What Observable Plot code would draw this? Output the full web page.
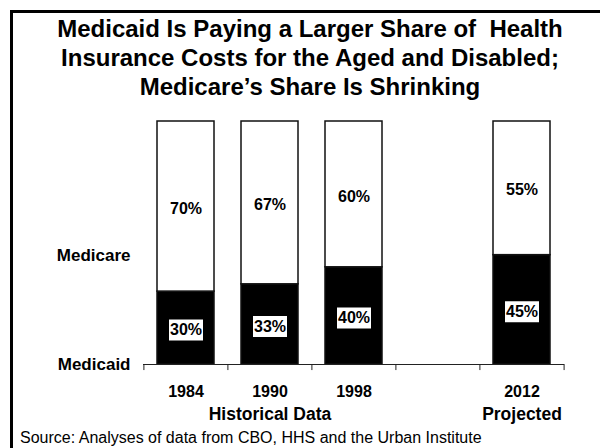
<!DOCTYPE html>
<html>
<head>
<meta charset="utf-8">
<script src="https://cdn.jsdelivr.net/npm/d3@7"></script>
<script src="https://cdn.jsdelivr.net/npm/@observablehq/plot@0.6"></script>
<style>
  html, body { margin: 0; padding: 0; background: #fff; }
  #wrap { position: relative; width: 600px; height: 448px; overflow: hidden; font-family: "Liberation Sans", Arial, sans-serif; }
  #frame { position: absolute; left: 10px; top: 10px; width: 640px; height: 480px; border: 3px solid #000; box-sizing: border-box; }
  #title { position: absolute; left: 10px; top: 14px; width: 600px; text-align: center; font-weight: bold; font-size: 24px; line-height: 29px; color: #000; }
  #chart { position: absolute; left: 0; top: 110px; }
  #source { position: absolute; left: 20px; top: 429px; font-size: 16px; line-height: 18px; color: #000; white-space: nowrap; }
</style>
</head>
<body>
<div id="wrap">
  <div id="frame"></div>
  <div id="title">Medicaid Is Paying a Larger Share of&nbsp; Health<br>Insurance Costs for the Aged and Disabled;<br>Medicare’s Share Is Shrinking</div>
  <div id="chart"></div>
  <div id="source">Source: Analyses of data from CBO, HHS and the Urban Institute</div>
</div>
<script>
// ---- data ----
const categories = ["1984", "1990", "1998", "gap", "2012"];
const years = ["1984", "1990", "1998", "2012"];
const medicaid = [30, 33, 40, 45];
const medicare = [70, 67, 60, 55];
const yTickValues = [0, 45];
const yTickLabels = ["Medicaid", "Medicare"];
const groupLabels = ["Historical Data", "Projected"];
const groupAt = ["1990", "2012"];

const rows = [
  ...years.map((y, i) => ({year: y, payer: "Medicaid", value: medicaid[i]})),
  ...years.map((y, i) => ({year: y, payer: "Medicare", value: medicare[i]}))
];
const groups = groupLabels.map((t, i) => ({label: t, year: groupAt[i]}));

const W = 600, H = 318, ML = 143, MR = 36, MT = 11, MB = 64;
const step = (W - ML - MR) / categories.length;

const boxSymbol = {draw(ctx) { ctx.moveTo(-17, -10.5); ctx.lineTo(17, -10.5); ctx.lineTo(17, 10.5); ctx.lineTo(-17, 10.5); ctx.closePath(); }};

const font = {fontFamily: "Liberation Sans, Arial, sans-serif", fontWeight: "bold", fontSize: 16, fill: "#000"};

const plot = Plot.plot({
  width: W, height: H,
  marginLeft: ML, marginRight: MR, marginTop: MT, marginBottom: MB,
  style: {fontFamily: "Liberation Sans, Arial, sans-serif", background: "transparent", overflow: "visible"},
  x: {type: "band", domain: categories, paddingInner: 0.32, paddingOuter: 0.16},
  y: {domain: [0, 100]},
  marks: [
    Plot.barY(rows, Plot.stackY({
      x: "year", y: "value", z: "payer",
      fill: d => d.payer === "Medicaid" ? "#000" : "#fff",
      stroke: "#111", strokeWidth: 1.5
    })),
    Plot.ruleY([0], {stroke: "#222", strokeWidth: 1}),
    Plot.ruleX(categories, {x: d => d, y1: 0, y2: -2.5, dx: -step / 2, stroke: "#222"}),
    Plot.ruleX([categories[categories.length - 1]], {x: d => d, y1: 0, y2: -2.5, dx: step / 2, stroke: "#222"}),
    Plot.dot(rows, Plot.stackY({
      filter: d => d.payer === "Medicaid",
      x: "year", y: "value", z: "payer",
      symbol: boxSymbol, r: 5, fill: "#fff", stroke: null, dy: 2
    })),
    Plot.text(rows, Plot.stackY({
      x: "year", y: "value", z: "payer",
      text: d => d.value + "%", dy: 2, ...font
    })),
    Plot.axisX({
      tickSize: 0, tickPadding: 21,
      tickFormat: d => d === "gap" ? "" : d,
      fontSize: 16, fontWeight: "bold", fill: "#000", label: null
    }),
    Plot.axisY({
      ticks: yTickValues, tickSize: 0, tickPadding: 13,
      tickFormat: d => yTickLabels[yTickValues.indexOf(d)],
      fontSize: 17, fontWeight: "bold", fill: "#000", label: null
    }),
    Plot.text(groups, {x: "year", y: 0, text: "label", dy: 50, lineAnchor: "middle", ...font, fontSize: 17.5})
  ]
});
document.getElementById("chart").appendChild(plot);
</script>
</body>
</html>
